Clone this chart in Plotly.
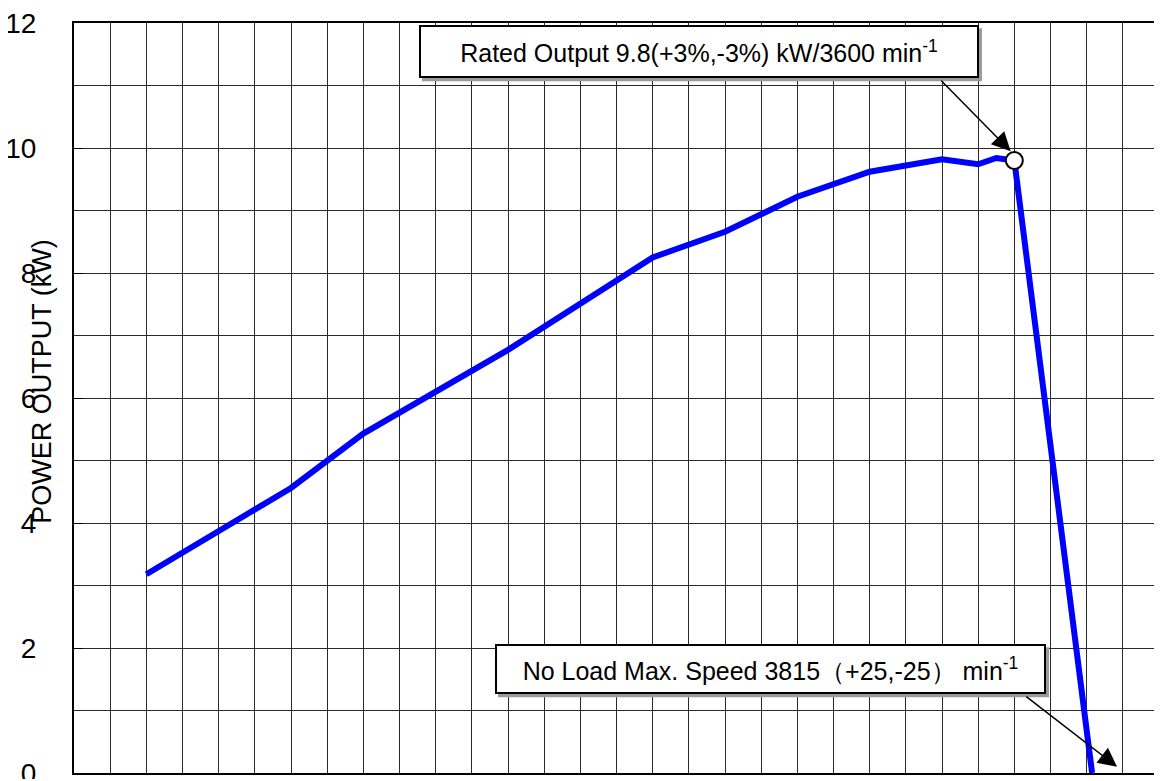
import plotly.graph_objects as go

# Data (speed in min^-1, power in kW)
speed = [1200, 1600, 1800, 2200, 2600, 2800, 3000, 3200, 3400, 3500, 3550, 3600, 3815]
power = [3.18, 4.56, 5.43, 6.77, 8.25, 8.66, 9.22, 9.62, 9.82, 9.74, 9.84, 9.8, 0.0]
rated_speed = [3600]
rated_power = [9.8]

y_ticks = [0, 2, 4, 6, 8, 10, 12]

fig = go.Figure()
fig.add_trace(go.Scatter(x=speed, y=power, mode="lines",
                         line=dict(color="#0000FF", width=6), hoverinfo="skip"))
fig.add_trace(go.Scatter(x=rated_speed, y=rated_power, mode="markers",
                         marker=dict(size=17, color="white", line=dict(color="black", width=2))))

grid_col = "#2a2a2a"
fig.update_xaxes(range=[1000, 4000], dtick=100, tick0=1000, showgrid=True, gridcolor=grid_col,
                 gridwidth=1, showticklabels=False, showline=True, linecolor="black",
                 linewidth=2, mirror=True, zeroline=False, ticks="", automargin=False)
fig.update_yaxes(range=[0, 12], tickvals=y_ticks, showgrid=True, gridcolor=grid_col, gridwidth=1,
                 minor=dict(dtick=1, showgrid=True, gridcolor=grid_col, gridwidth=1),
                 showline=True, linecolor="black", linewidth=2, mirror=True, zeroline=False,
                 ticks="inside", ticklen=9, tickcolor="black", ticklabelstandoff=30,
                 ticklabeloverflow="allow", automargin=False,
                 tickfont=dict(family="Arial, Liberation Sans", size=28, color="black"))

font_ann = dict(family="Arial, Liberation Sans", size=25, color="black")

t1 = "Rated Output 9.8(+3%,-3%) kW/3600 min<sup>-1</sup>"
t2 = "No Load Max. Speed 3815（+25,-25） min<sup>-1</sup>"

anns = []
shapes = []
for txt, cx, cy, w, h in [(t1, 2728, 11.54, 556, 49), (t2, 2926, 1.66, 547, 46)]:
    shapes.append(dict(type="rect", xref="x", yref="y", xsizemode="pixel", ysizemode="pixel",
                       xanchor=cx, yanchor=cy, x0=-w / 2 + 1, x1=w / 2 + 5, y0=-h / 2 - 5, y1=h / 2 - 1,
                       fillcolor="#9a9a9a", line=dict(width=0), layer="above"))
    anns.append(dict(x=cx, y=cy, xref="x", yref="y", text=txt, showarrow=False,
                     width=w, height=h, bgcolor="white", bordercolor="black",
                     borderwidth=2, borderpad=0, font=font_ann, align="center", valign="middle"))

# arrows
anns.append(dict(x=3590, y=9.95, ax=3394, ay=11.1, xref="x", yref="y", axref="x", ayref="y",
                 text="", showarrow=True, arrowhead=2, arrowsize=2.5, arrowwidth=1.5, arrowcolor="black"))
anns.append(dict(x=3884, y=0.1, ax=3629, ay=1.24, xref="x", yref="y", axref="x", ayref="y",
                 text="", showarrow=True, arrowhead=2, arrowsize=2.5, arrowwidth=1.5, arrowcolor="black"))

# y axis title (overlapping tick labels as in reference)
anns.append(dict(x=-0.029, y=0.521, xref="paper", yref="paper", text="POWER OUTPUT (kW)",
                 showarrow=False, textangle=-90, xanchor="center", yanchor="middle",
                 font=dict(family="Arial, Liberation Sans", size=27, color="black")))

# figure is placed 8px in from the page corner by the browser's body margin
fig.update_layout(width=1152, height=771, margin=dict(l=66, r=1, t=15, b=6, autoexpand=False),
                  paper_bgcolor="white", plot_bgcolor="white", showlegend=False,
                  annotations=anns, shapes=shapes)

fig.write_html("out.html")
